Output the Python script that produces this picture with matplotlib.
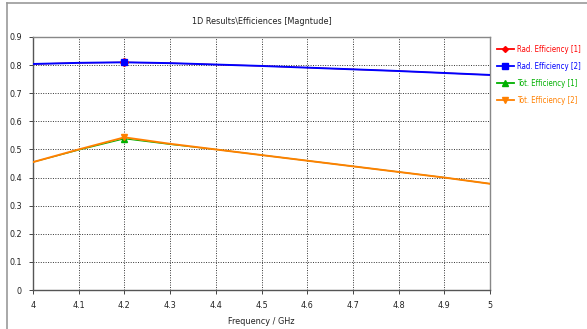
import matplotlib
matplotlib.use("Agg")
import matplotlib.pyplot as plt
from matplotlib.lines import Line2D

freq = [4.0, 4.1, 4.2, 4.3, 4.4, 4.5, 4.6, 4.7, 4.8, 4.9, 5.0]
rad_eff_1 = [0.804, 0.808, 0.810, 0.807, 0.802, 0.797, 0.791, 0.785, 0.779, 0.772, 0.765]
rad_eff_2 = [0.804, 0.808, 0.810, 0.807, 0.802, 0.797, 0.791, 0.785, 0.779, 0.772, 0.765]
tot_eff_1 = [0.455, 0.498, 0.538, 0.518, 0.500, 0.480, 0.460, 0.440, 0.420, 0.400, 0.378]
tot_eff_2 = [0.455, 0.500, 0.543, 0.520, 0.500, 0.480, 0.460, 0.440, 0.420, 0.400, 0.378]
marker_freq = 4.2
series_names = ["Rad. Efficiency [1]", "Rad. Efficiency [2]", "Tot. Efficiency [1]", "Tot. Efficiency [2]"]
x_ticks = [4, 4.1, 4.2, 4.3, 4.4, 4.5, 4.6, 4.7, 4.8, 4.9, 5]
y_ticks = [0, 0.1, 0.2, 0.3, 0.4, 0.5, 0.6, 0.7, 0.8, 0.9]

plt.rcParams['font.family'] = ['DejaVu Sans']
plt.rcParams['font.stretch'] = 'condensed'
W, H = 587, 329
fig = plt.figure(figsize=(W / 100, H / 100), dpi=100)
ax = fig.add_axes([33 / W, 1 - 290 / H, (490 - 33) / W, (290 - 37) / H])

colors = ["#ff0000", "#0000ff", "#00b000", "#ff8000"]
markers = ["D", "s", "^", "v"]
msizes = [4, 5, 5, 5]
lws = [0.8, 1.4, 0.8, 1.4]
data = [rad_eff_1, rad_eff_2, tot_eff_1, tot_eff_2]
handles = []
for d, c, m, ms, lw, name in zip(data, colors, markers, msizes, lws, series_names):
    ax.plot(freq, d, color=c, lw=lw, zorder=3)
    i = freq.index(marker_freq)
    ax.plot([freq[i]], [d[i]], marker=m, color=c, ms=ms, ls="none", zorder=4)
    handles.append(Line2D([0], [0], color=c, lw=1.3, marker=m, ms=ms - 1))

ax.set_xlim(4, 5)
ax.set_ylim(0, 0.9)
ax.set_xticks(x_ticks)
ax.set_xticklabels([f"{t:g}" for t in x_ticks])
ax.set_yticks(y_ticks)
ax.set_yticklabels([f"{t:g}" for t in y_ticks])
ax.grid(True, color="#333333", ls=(0, (1, 1.5)), lw=0.7)
ax.tick_params(labelsize=6.5, length=3, width=0.7, color="#444444", pad=5, labelcolor="#222222")
for s in ["left", "bottom"]:
    ax.spines[s].set_color("#555555")
    ax.spines[s].set_linewidth(1.0)
for s in ["right", "top"]:
    ax.spines[s].set_color("#888888")
    ax.spines[s].set_linewidth(1.0)

ax.set_title("1D Results\\Efficiences [Magntude]", fontsize=6.5, color="#222222", pad=9)
ax.set_xlabel("Frequency / GHz", fontsize=6.5, color="#222222", labelpad=5)

leg = fig.legend(handles, series_names, loc="upper left", bbox_to_anchor=(495 / W, 1 - 43 / H),
                 frameon=False, fontsize=5.6, handlelength=2.2, handletextpad=0.4,
                 labelspacing=1.05, borderaxespad=0, borderpad=0.2)
for t, c in zip(leg.get_texts(), colors):
    t.set_color(c)

# outer frame lines
fig.add_artist(Line2D([7 / W, 1], [1 - 3 / H, 1 - 3 / H], color="#999999", lw=1.2))
fig.add_artist(Line2D([7 / W, 7 / W], [0, 1 - 3 / H], color="#999999", lw=1.2))

fig.savefig("out.png", dpi=100)
